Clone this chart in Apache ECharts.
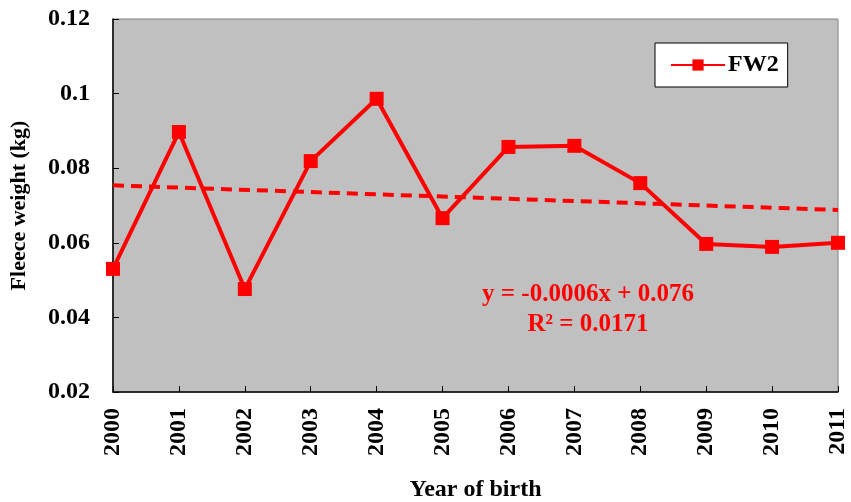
<!DOCTYPE html>
<html>
<head>
<meta charset="utf-8">
<script src="https://cdn.jsdelivr.net/npm/echarts@6/dist/echarts.min.js"></script>
<style>
  html, body { margin: 0; padding: 0; background: #fff; }
  #chart { width: 851px; height: 502px; }
</style>
</head>
<body>
<div id="chart"></div>
<script>
const years = ['2000', '2001', '2002', '2003', '2004', '2005', '2006', '2007', '2008', '2009', '2010', '2011']
const fw2 = [0.053, 0.0897, 0.0476, 0.0819, 0.0986, 0.0666, 0.0857, 0.086, 0.076, 0.0597, 0.0589, 0.06]
// trend line ends
const trend = [0.0754, null, null, null, null, null, null, null, null, null, null, 0.0688]
const equationText = ['y = -0.0006x + 0.076', 'R² = 0.0171']

const font = 'Liberation Serif'
const chart = echarts.init(document.getElementById('chart'))
chart.setOption({
  animation: false,
  backgroundColor: '#fff',
  grid: {
    left: 113, top: 19, right: 13, bottom: 110,
    containLabel: false,
    outerBoundsMode: 'none',
    show: true, backgroundColor: '#c0c0c0', borderColor: '#808080', borderWidth: 1
  },
  legend: {
    data: ['FW2'],
    left: 655, top: 43,
    padding: [10, 9, 10, 15],
    itemGap: 4,
    backgroundColor: '#fff',
    borderColor: '#000', borderWidth: 1,
    itemWidth: 54, itemHeight: 14,
    textStyle: { fontFamily: font, fontWeight: 'bold', fontSize: 24, color: '#000', padding: [0, 0, 0, -2] }
  },
  xAxis: {
    type: 'category',
    data: years,
    boundaryGap: false,
    name: 'Year of birth',
    nameLocation: 'middle',
    nameGap: 86,
    nameTextStyle: { fontFamily: font, fontWeight: 'bold', fontSize: 24, color: '#000' },
    axisLine: { lineStyle: { color: '#000', width: 1.5 } },
    axisTick: { inside: true, length: 6, lineStyle: { color: '#000' } },
    axisLabel: { rotate: 90, margin: 16, fontFamily: font, fontWeight: 'bold', fontSize: 24, color: '#000' },
    splitLine: { show: false }
  },
  yAxis: {
    type: 'value',
    min: 0.02, max: 0.12, interval: 0.02,
    name: 'Fleece weight (kg)',
    nameLocation: 'middle',
    nameGap: 83,
    nameTextStyle: { fontFamily: font, fontWeight: 'bold', fontSize: 22, color: '#000' },
    axisLine: { show: true, lineStyle: { color: '#000', width: 1.5 } },
    axisTick: { show: true, inside: true, length: 6, lineStyle: { color: '#000' } },
    axisLabel: {
      margin: 23, fontFamily: font, fontWeight: 'bold', fontSize: 24, color: '#000',
      formatter: v => String(parseFloat(v.toFixed(2)))
    },
    splitLine: { show: false }
  },
  graphic: [{
    type: 'text',
    x: 588, y: 310,
    style: {
      text: equationText.join('\n'),
      align: 'center', verticalAlign: 'middle',
      fill: '#ff0000', font: 'bold 25px "Liberation Serif"', lineHeight: 30
    },
    z: 10
  }],
  series: [
    {
      name: 'FW2',
      type: 'line',
      data: fw2,
      symbol: 'rect',
      symbolSize: 14,
      lineStyle: { color: '#ff0000', width: 4 },
      itemStyle: { color: '#ff0000' },
      z: 3
    },
    {
      name: 'trend',
      type: 'line',
      data: trend,
      connectNulls: true,
      showSymbol: false,
      symbol: 'none',
      lineStyle: { color: '#ff0000', width: 4, type: [11, 7] },
      z: 2
    }
  ]
})
</script>
</body>
</html>
